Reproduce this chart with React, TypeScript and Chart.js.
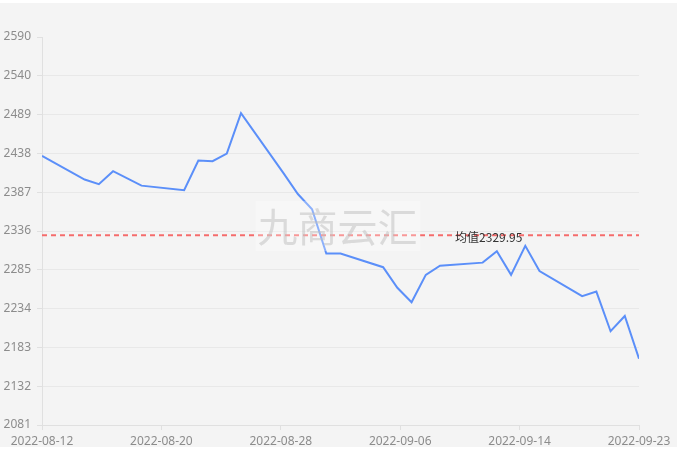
import React, { useEffect, useRef } from 'react';
import { Chart, registerables } from 'chart.js';

Chart.register(...registerables);

const dates = [
  '2022-08-12', '2022-08-15', '2022-08-16', '2022-08-17', '2022-08-19',
  '2022-08-22', '2022-08-23', '2022-08-24', '2022-08-25', '2022-08-26',
  '2022-08-29', '2022-08-30', '2022-08-31', '2022-09-01', '2022-09-02',
  '2022-09-05', '2022-09-06', '2022-09-07', '2022-09-08', '2022-09-09',
  '2022-09-12', '2022-09-13', '2022-09-14', '2022-09-15', '2022-09-16',
  '2022-09-19', '2022-09-20', '2022-09-21', '2022-09-22', '2022-09-23',
];
const prices = [
  2434, 2403, 2397, 2414, 2395,
  2389, 2428, 2427, 2437, 2490,
  2411, 2384, 2364, 2306, 2306,
  2288, 2261, 2242, 2278, 2290,
  2294, 2309, 2278, 2316, 2283,
  2250, 2256, 2204, 2224, 2168,
];
const averageValue = 2329.95;
const averageLabel = '均值2329.95';
const yTickLabels = [2081, 2132, 2183, 2234, 2285, 2336, 2387, 2438, 2489, 2540, 2590];
const xIntervals = 5;
const watermarkText = '九商云汇';

const FONT = '"Noto Sans CJK SC", "Noto Sans", sans-serif';
const TICK_FONT = '"Noto Sans", "Noto Sans CJK SC", sans-serif';
const DAY = 86400000;
const startMs = Date.parse(dates[0] + 'T00:00:00Z');
const endMs = Date.parse(dates[dates.length - 1] + 'T00:00:00Z');
const totalDays = (endMs - startMs) / DAY;
const toDay = (d: string) => (Date.parse(d + 'T00:00:00Z') - startMs) / DAY;
const fmtDay = (day: number) =>
  new Date(startMs + Math.floor(day + 1e-6) * DAY).toISOString().slice(0, 10);

const yMin = yTickLabels[0];
const yMax = yTickLabels[yTickLabels.length - 1];

const overlayPlugin = {
  id: 'overlay',
  afterDatasetsDraw(chart: any) {
    const { ctx, chartArea, scales } = chart;
    const y = scales.y.getPixelForValue(averageValue);
    ctx.save();
    // average line
    ctx.strokeStyle = '#f56c6c';
    ctx.lineWidth = 2;
    ctx.setLineDash([5, 4]);
    ctx.beginPath();
    ctx.moveTo(chartArea.left, y);
    ctx.lineTo(chartArea.right, y);
    ctx.stroke();
    ctx.setLineDash([]);
    ctx.font = '12px ' + FONT;
    ctx.fillStyle = '#333';
    ctx.textAlign = 'left';
    ctx.textBaseline = 'middle';
    ctx.fillText(averageLabel, chartArea.left + chartArea.width * 0.692, y + 2);
    // watermark
    const cx = chartArea.left + chartArea.width * 0.495;
    const cy = chartArea.top + chartArea.height * 0.487;
    ctx.fillStyle = 'rgba(255,255,255,0.3)';
    ctx.fillRect(cx - 82, cy - 25, 165, 50);
    ctx.font = '40px ' + FONT;
    ctx.textAlign = 'center';
    ctx.fillStyle = 'rgba(190,190,190,0.5)';
    ctx.fillText(watermarkText, cx, cy + 1);
    ctx.restore();
  },
};

export default function App() {
  const ref = useRef<HTMLCanvasElement>(null);
  useEffect(() => {
    if (!ref.current) return;
    const chart = new Chart(ref.current, {
      type: 'line',
      data: {
        datasets: [
          {
            data: dates.map((d, i) => ({ x: toDay(d), y: prices[i] })),
            borderColor: '#5b8ff9',
            borderWidth: 2,
            pointRadius: 0,
            tension: 0,
            fill: false,
          },
        ],
      },
      options: {
        animation: false,
        responsive: false,
        layout: { padding: { top: 34, right: 38, left: 0, bottom: 0 } },
        plugins: { legend: { display: false }, tooltip: { enabled: false } },
        scales: {
          x: {
            type: 'linear',
            min: 0,
            max: totalDays,
            afterBuildTicks: (s: any) => {
              s.ticks = Array.from({ length: xIntervals + 1 }, (_, i) => ({
                value: (i * totalDays) / xIntervals,
              }));
            },
            afterFit: (s: any) => {
              s.height = 22;
            },
            ticks: {
              autoSkip: false,
              maxRotation: 0,
              padding: 4,
              color: '#8c8c8c',
              font: { size: 12, family: TICK_FONT },
              callback: (v: any) => fmtDay(Number(v)),
            },
            grid: { drawOnChartArea: false, tickColor: '#e0e0e0', tickLength: 5 },
            border: { color: '#e0e0e0' },
          },
          y: {
            type: 'linear',
            min: yMin,
            max: yMax,
            afterBuildTicks: (s: any) => {
              s.ticks = yTickLabels.map((_, i) => ({
                value: yMin + (i * (yMax - yMin)) / (yTickLabels.length - 1),
              }));
            },
            afterFit: (s: any) => {
              s.width = 42;
            },
            ticks: {
              autoSkip: false,
              padding: 6,
              color: '#8c8c8c',
              font: { size: 12, family: TICK_FONT },
              callback: (_v: any, i: number) => String(yTickLabels[i]),
            },
            grid: {
              color: (c: any) =>
                c.index === yTickLabels.length - 1 ? 'rgba(0,0,0,0)' : '#e8e8e8',
              tickColor: '#e0e0e0',
              tickLength: 5,
            },
            border: { color: '#e0e0e0' },
          },
        },
      },
      plugins: [overlayPlugin],
    });
    return () => chart.destroy();
  }, []);
  return (
    <div
      style={{
        position: 'absolute',
        left: 0,
        top: 3,
        width: 677,
        height: 444,
        background: '#f4f4f4',
      }}
    >
      <canvas ref={ref} width={677} height={444} style={{ display: 'block' }} />
    </div>
  );
}
